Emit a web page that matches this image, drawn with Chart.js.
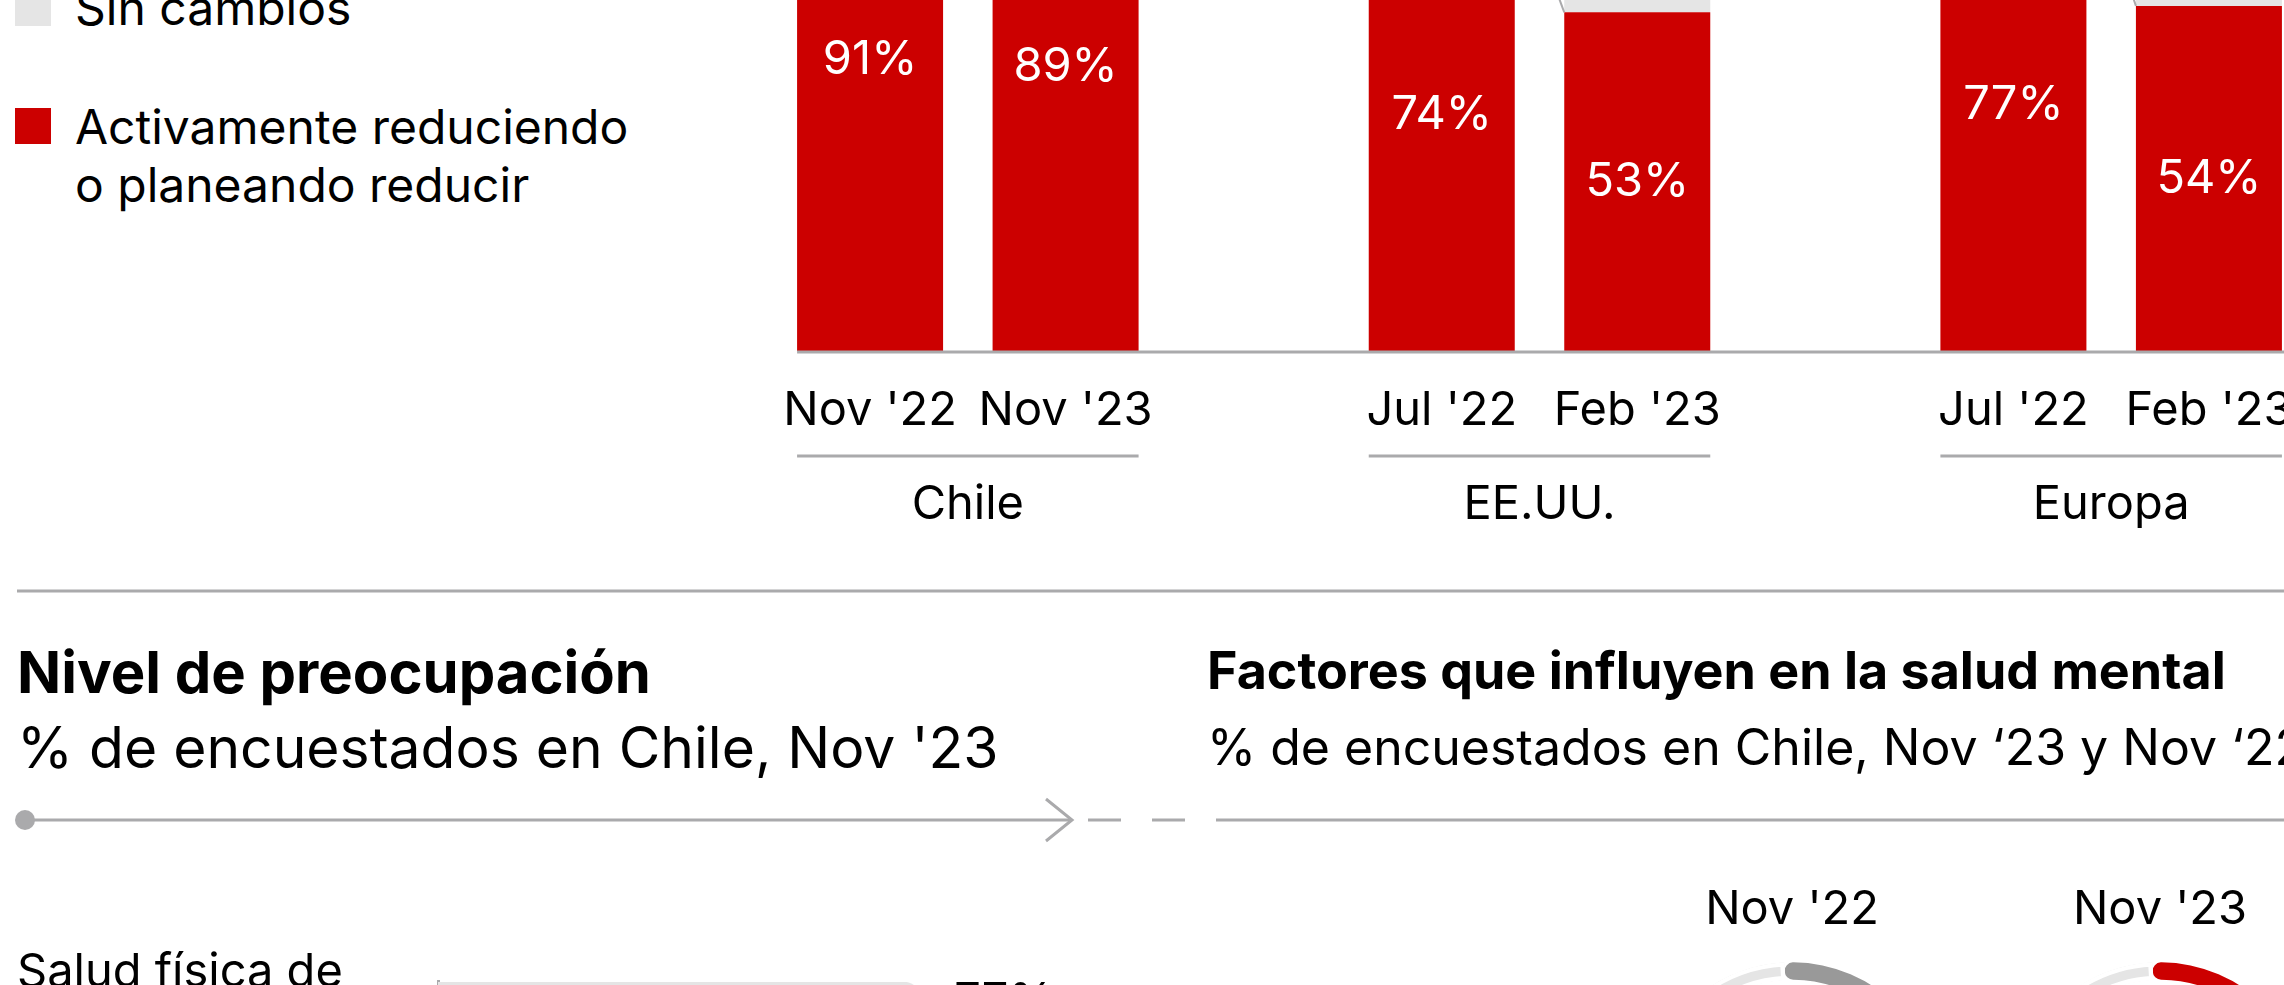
<!DOCTYPE html>
<html lang="es">
<head>
<meta charset="utf-8">
<title>Preocupación por la salud</title>
<script src="https://cdn.jsdelivr.net/npm/chart.js@4.4.1/dist/chart.umd.min.js"></script>
<style>
  html, body { margin: 0; padding: 0; background: #fff; }
  body { position: relative; width: 2284px; height: 985px; overflow: hidden; font-family: Inter, sans-serif; color: #000; }
  .t { position: absolute; white-space: nowrap; line-height: 1; }
  .sq { position: absolute; width: 36px; height: 36px; }
  canvas { position: absolute; }
  svg { position: absolute; left: 0; top: 0; }
</style>
</head>
<body>

<!-- legend -->
<div class="sq" style="left:15px; top:-10px; background:#e5e5e5"></div>
<div class="t" style="left:75px; top:-21px; font-size:48px; line-height:58px">Sin cambios</div>
<div class="sq" style="left:15px; top:108px; background:#cc0000"></div>
<div class="t" style="left:75px; top:98px; font-size:48px; line-height:58px">Activamente reduciendo<br>o planeando reducir</div>

<canvas id="regionChart" width="1715" height="851" style="left:682px; top:-300px"></canvas>

<!-- rules and arrow -->
<svg width="2284" height="985">
  <g stroke="#aaaaac" stroke-width="3" fill="none">
    <line x1="17" y1="591" x2="2284" y2="591" />
    <line x1="25" y1="820" x2="1072" y2="820" />
    <polyline points="1046,799 1072,820 1046,841" />
    <line x1="1088" y1="820" x2="1121" y2="820" />
    <line x1="1152" y1="820" x2="1185" y2="820" />
    <line x1="1216" y1="820" x2="2284" y2="820" />
  </g>
  <circle cx="25" cy="820" r="10" fill="#aaaaac" />
</svg>

<div class="t" style="left:17px; top:643px; font-size:58px; font-weight:700">Nivel de preocupación</div>
<div class="t" style="left:17px; top:719px; font-size:57px">% de encuestados en Chile, Nov '23</div>

<div class="t" style="left:1207px; top:645px; font-size:52px; font-weight:700">Factores que influyen en la salud mental</div>
<div class="t" style="left:1207px; top:722px; font-size:50px">% de encuestados en Chile, Nov ‘23 y Nov ‘22</div>

<canvas id="concernChart" width="1200" height="200" style="left:0px; top:921px"></canvas>

<div class="t" id="donutLabel0" style="left:1642px; top:883px; width:300px; text-align:center; font-size:47px"></div>
<div class="t" id="donutLabel1" style="left:2010px; top:883px; width:300px; text-align:center; font-size:47px"></div>
<canvas id="donut0" width="320" height="320" style="left:1632px; top:952px"></canvas>
<canvas id="donut1" width="320" height="320" style="left:2000px; top:952px"></canvas>

<script>
// reduction in spending, by region and survey
const regions = ['Chile', 'EE.UU.', 'Europa'];
const firstPeriods = ["Nov '22", "Jul '22", "Jul '22"];
const secondPeriods = ["Nov '23", "Feb '23", "Feb '23"];
const reducingFirst = [91, 74, 77];
const reducingSecond = [89, 53, 54];
const unchangedFirst = [6, 17, 15];
const unchangedSecond = [8, 31, 30];

// level of concern, Chile Nov '23
const concernLabels = [['Salud física de', 'la familia']];
const concernValues = [77];

// factors influencing mental health
const donutPeriods = ["Nov '22", "Nov '23"];
const donutValues = [62, 70];

const RED = '#cc0000';
const LIGHT = '#e5e5e5';
const RULE = '#aaaaac';

Chart.defaults.font.family = 'Inter';
Chart.defaults.color = '#000';

const regionDecor = {
  id: 'regionDecor',
  afterDatasetsDraw(chart) {
    const ctx = chart.ctx;
    const base = chart.scales.y.getPixelForValue(0);
    const first = chart.getDatasetMeta(0).data;
    const second = chart.getDatasetMeta(2).data;
    ctx.save();
    ctx.strokeStyle = RULE;
    ctx.lineWidth = 3;
    ctx.beginPath();
    ctx.moveTo(first[0].x - first[0].width / 2, base + 1);
    ctx.lineTo(chart.width, base + 1);
    ctx.stroke();

    ctx.textAlign = 'center';
    ctx.textBaseline = 'middle';
    ctx.font = '47px Inter';
    regions.forEach((name, i) => {
      const a = first[i], b = second[i];
      const left = a.x - a.width / 2, right = b.x + b.width / 2;

      ctx.lineWidth = 2;
      ctx.beginPath();
      ctx.moveTo(a.x + a.width / 2, a.y);
      ctx.lineTo(b.x - b.width / 2, b.y);
      ctx.stroke();

      ctx.fillStyle = '#fff';
      ctx.fillText(reducingFirst[i] + '%', a.x, (a.y + a.base) / 2);
      ctx.fillText(reducingSecond[i] + '%', b.x, (b.y + b.base) / 2);

      ctx.fillStyle = '#000';
      ctx.fillText(firstPeriods[i], a.x, base + 60);
      ctx.fillText(secondPeriods[i], b.x, base + 60);

      ctx.lineWidth = 3;
      ctx.beginPath();
      ctx.moveTo(left, base + 105);
      ctx.lineTo(right, base + 105);
      ctx.stroke();
      ctx.fillText(name, (left + right) / 2, base + 154);
    });
    ctx.restore();
  }
};

const concernDecor = {
  id: 'concernDecor',
  afterDatasetsDraw(chart) {
    const ctx = chart.ctx;
    ctx.save();
    ctx.font = '47px Inter';
    ctx.fillStyle = '#000';
    ctx.textAlign = 'left';
    ctx.textBaseline = 'middle';
    chart.getDatasetMeta(0).data.forEach((bar, i) => {
      ctx.fillText(concernValues[i] + '%', bar.x + 32, bar.y);
    });
    ctx.restore();
  }
};

function build() {
  new Chart(document.getElementById('regionChart'), {
    type: 'bar',
    data: {
      labels: regions,
      datasets: [
        { label: 'Activamente reduciendo o planeando reducir', data: reducingFirst, backgroundColor: RED, stack: 'first' },
        { label: 'Sin cambios', data: unchangedFirst, backgroundColor: LIGHT, stack: 'first' },
        { label: 'Activamente reduciendo o planeando reducir', data: reducingSecond, backgroundColor: RED, stack: 'second' },
        { label: 'Sin cambios', data: unchangedSecond, backgroundColor: LIGHT, stack: 'second' }
      ]
    },
    options: {
      responsive: false,
      animation: false,
      layout: { padding: { top: 12, bottom: 200, left: 0, right: 0 } },
      categoryPercentage: 0.684,
      barPercentage: 0.7468,
      scales: {
        x: { stacked: true, display: false },
        y: { stacked: true, display: false, min: 0, max: 100 }
      },
      plugins: { legend: { display: false }, tooltip: { enabled: false } }
    },
    plugins: [regionDecor]
  });

  new Chart(document.getElementById('concernChart'), {
    type: 'bar',
    data: {
      labels: concernLabels,
      datasets: [{ data: concernValues, backgroundColor: LIGHT, borderRadius: 30, categoryPercentage: 1, barPercentage: 1 }]
    },
    options: {
      indexAxis: 'y',
      responsive: false,
      animation: false,
      layout: { padding: { top: 30, bottom: 100, left: 17, right: 133 } },
      scales: {
        x: { display: false, min: 0, max: 100 },
        y: {
          grid: { display: false },
          border: { display: true, color: RULE, width: 3 },
          ticks: { crossAlign: 'far', font: { size: 47, lineHeight: 1.234 }, color: '#000' },
          afterFit(scale) { scale.width = 421; }
        }
      },
      plugins: { legend: { display: false }, tooltip: { enabled: false } }
    },
    plugins: [concernDecor]
  });

  const donutColors = ['#999999', RED];
  donutPeriods.forEach((p, i) => {
    document.getElementById('donutLabel' + i).textContent = p;
    new Chart(document.getElementById('donut' + i), {
      type: 'doughnut',
      data: {
        labels: ['Influye', 'Resto'],
        datasets: [{
          data: [donutValues[i], 100 - donutValues[i]],
          backgroundColor: [donutColors[i], LIGHT],
          borderColor: '#fff',
          borderWidth: [0, 4],
          borderAlign: 'inner',
          borderRadius: [9, 0]
        }]
      },
      options: {
        responsive: false,
        animation: false,
        cutout: 132,
        rotation: -3,
        layout: { padding: 10 },
        plugins: { legend: { display: false }, tooltip: { enabled: false } }
      }
    });
  });
}

document.fonts.load('47px Inter').then(build, build);
</script>
</body>
</html>
